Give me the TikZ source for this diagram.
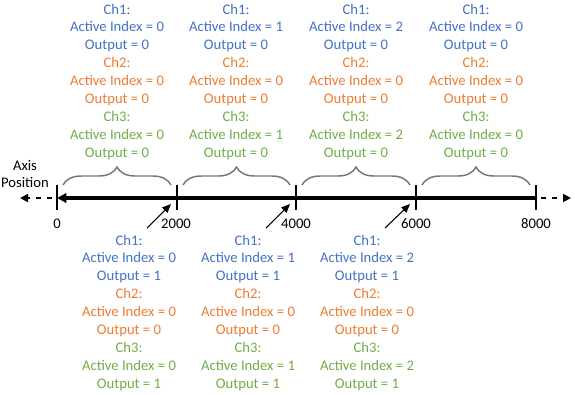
\documentclass[tikz,border=0pt]{standalone}
\usepackage{fontspec}
\setmainfont{Carlito}
\usetikzlibrary{arrows.meta,decorations.pathreplacing}
\definecolor{chA}{HTML}{4472C4}
\definecolor{chB}{HTML}{ED7D31}
\definecolor{chC}{HTML}{70AD47}
\definecolor{bracegray}{HTML}{767676}
\tikzset{
  lbl/.style={font=\fontsize{11}{13.4}\selectfont, anchor=base, inner sep=0pt},
  tickline/.style={line width=0.8pt, black},
  axisline/.style={line width=2.6pt, black, {Triangle[length=7pt,width=7pt]}-},
  dashline/.style={line width=1.3pt, black, dash pattern=on 3.8pt off 4.4pt, -{Triangle[length=6pt,width=6pt]}},
  ptr/.style={line width=0.8pt, black, -{Triangle[length=6.5pt,width=5.5pt]}},
  brc/.style={draw=bracegray, line width=1.1pt, decorate, decoration={brace, amplitude=13.5pt}},
}
\newcommand\chblock[9]{%
  \node[lbl,chA] (#1a) at (#2,#3) {Ch1:};
  \node[lbl,chA] (#1b) at (#2,{#3+17.9}) {Active Index = #4};
  \node[lbl,chA] (#1c) at (#2,{#3+35.8}) {Output = #5};
  \node[lbl,chB] (#1d) at (#2,{#3+53.7}) {Ch2:};
  \node[lbl,chB] (#1e) at (#2,{#3+71.6}) {Active Index = #6};
  \node[lbl,chB] (#1f) at (#2,{#3+89.5}) {Output = #7};
  \node[lbl,chC] (#1g) at (#2,{#3+107.4}) {Ch3:};
  \node[lbl,chC] (#1h) at (#2,{#3+125.3}) {Active Index = #8};
  \node[lbl,chC] (#1i) at (#2,{#3+143.2}) {Output = #9};
}
\begin{document}
\begin{tikzpicture}[x=0.75pt,y=-0.75pt]
\useasboundingbox (0,0) rectangle (575,394);
% top blocks
\chblock{topA}{117}{14}{0}{0}{0}{0}{0}{0}
\chblock{topB}{236}{14}{1}{0}{0}{0}{1}{0}
\chblock{topC}{356}{14}{2}{0}{0}{0}{2}{0}
\chblock{topD}{476}{14}{0}{0}{0}{0}{0}{0}
% bottom blocks
\chblock{botA}{129}{245}{0}{1}{0}{0}{0}{1}
\chblock{botB}{248}{245}{1}{1}{0}{0}{1}{1}
\chblock{botC}{367}{245}{2}{1}{0}{0}{2}{1}
% axis coordinates
\coordinate (t0) at (57,198);
\coordinate (t1) at (177,198);
\coordinate (t2) at (296,198);
\coordinate (t3) at (416,198);
\coordinate (t4) at (536,198);
\coordinate (lend) at (20,198);
\coordinate (rend) at (571,198);
\coordinate (lstart) at (52,198);
\coordinate (rstart) at (541,198);
% axis
\draw[axisline] (t0) -- (t4);
\draw[dashline] (lstart) -- (lend);
\draw[dashline] (rstart) -- (rend);
\foreach \t in {t0,t1,t2,t3,t4}
  \draw[tickline] ([yshift=9.75pt]\t) -- ([yshift=-9pt]\t);
% braces
\draw[brc] (63,185) -- (171,185);
\draw[brc] (183,185) -- (290,185);
\draw[brc] (302,185) -- (410,185);
\draw[brc] (422,185) -- (530,185);
% axis labels
\node[lbl] (ax1) at (25,170) {Axis};
\node[lbl] (ax2) at (25,187) {Position};
\node[lbl] (n0) at (57,228) {0};
\node[lbl] (n1) at (176,228) {2000};
\node[lbl] (n2) at (296,228) {4000};
\node[lbl] (n3) at (416,228) {6000};
\node[lbl] (n4) at (536,228) {8000};
% pointer arrows
\coordinate (p1s) at (147,228);
\coordinate (p1e) at (171,204);
\coordinate (p2s) at (266,228);
\coordinate (p2e) at (290,204);
\coordinate (p3s) at (385,228);
\coordinate (p3e) at (410,204);
\draw[ptr] (p1s) -- (p1e);
\draw[ptr] (p2s) -- (p2e);
\draw[ptr] (p3s) -- (p3e);
\end{tikzpicture}
\end{document}
